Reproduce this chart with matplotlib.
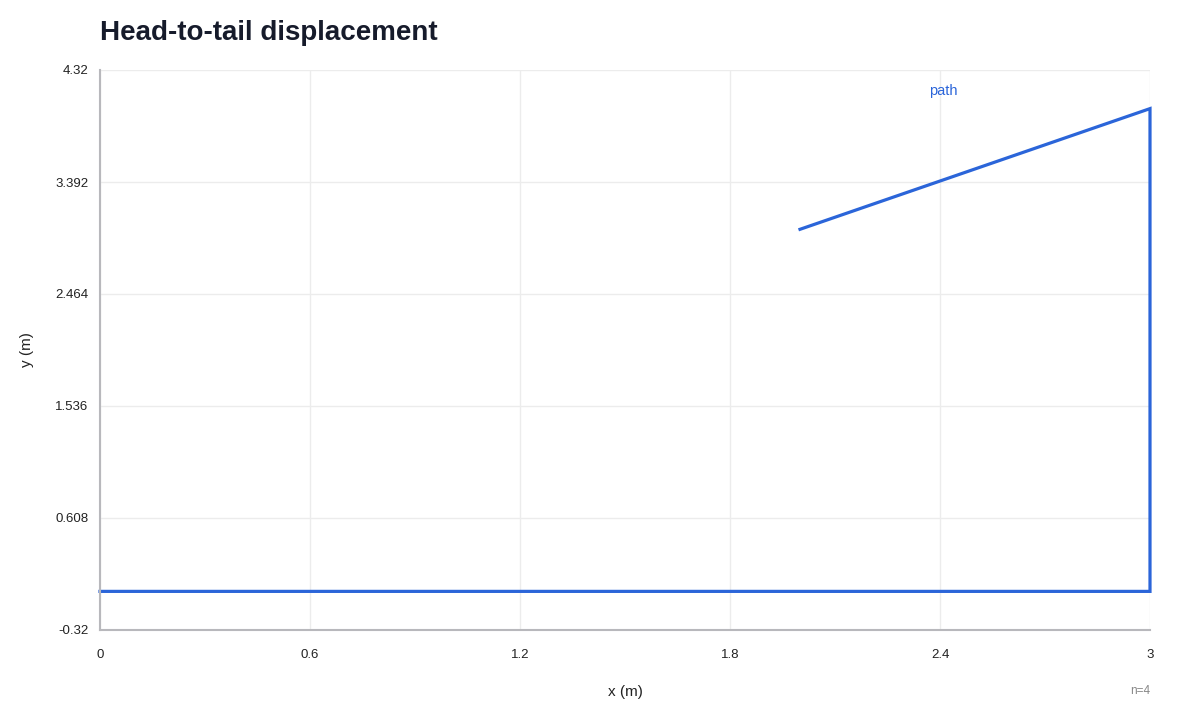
import matplotlib
matplotlib.use("Agg")
import matplotlib.pyplot as plt
import numpy as np

# path points, head to tail
xs = [0, 3, 3, 2]
ys = [0, 0, 4, 3]
series_name = "path"
x_ticks = [0, 0.6, 1.2, 1.8, 2.4, 3]
y_ticks = [-0.32, 0.608, 1.536, 2.464, 3.392, 4.32]
y_tick_labels = ["-0.32", "0.608", "1.536", "2.464", "3.392", "4.32"]

blue = "#2b65d9"

plt.rcParams['font.family'] = ['Liberation Sans', 'DejaVu Sans']

fig = plt.figure(figsize=(12, 7.2), dpi=100)
ax = fig.add_axes([100/1200, 90/720, 1050/1200, 560/720])

ax.plot(xs, ys, color=blue, lw=2.3, solid_joinstyle='miter', clip_on=False)

ax.set_xlim(0, 3)
ax.set_ylim(-0.32, 4.32)
ax.set_xticks(x_ticks)
ax.set_xticklabels(["0", "0.6", "1.2", "1.8", "2.4", "3"])
ax.set_yticks(y_ticks)
ax.set_yticklabels(y_tick_labels)
ax.grid(True, color="#ececec", lw=1)
ax.set_axisbelow(True)
ax.tick_params(length=0, labelsize=9.5, colors="#222222")
ax.tick_params(axis='x', pad=14)
ax.tick_params(axis='y', pad=8.5)

for s in ['top', 'right']:
    ax.spines[s].set_visible(False)
for s in ['left', 'bottom']:
    ax.spines[s].set_color("#b8b8bc")
    ax.spines[s].set_linewidth(1.5)

ax.set_xlabel("x (m)", fontsize=11, color="#222222", labelpad=17)
ax.set_ylabel("y (m)", fontsize=11, color="#222222", labelpad=15)

ax.text(2.41, 4.15, series_name, color=blue, fontsize=10.5, ha='center', va='center')

fig.text(100/1200, 1 - 33/720, "Head-to-tail displacement", fontsize=20,
         fontweight='bold', color="#161b2b", ha='left', va='center')
fig.text(1150/1200, 1 - 691/720, "n=4", fontsize=8.5, color="#888888",
         ha='right', va='center')

fig.savefig("out.png", dpi=100)
